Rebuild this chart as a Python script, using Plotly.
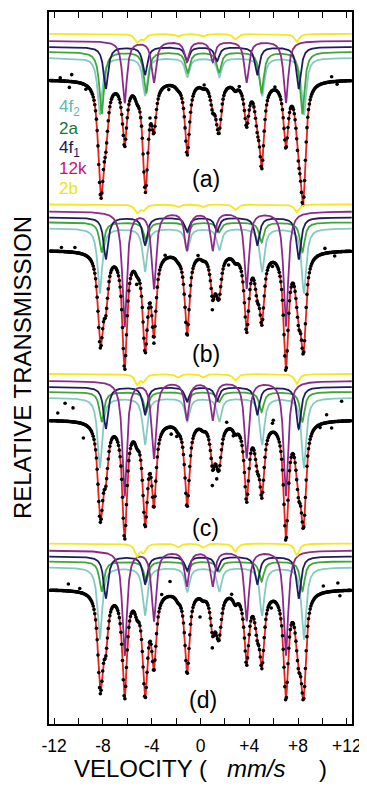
import numpy as np
import plotly.graph_objects as go

# ---------------- data ----------------
PANELS = ["(a)", "(b)", "(c)", "(d)"]
SITES = ["4f2", "2a", "4f1", "12k", "2b"]

# line positions (mm/s) of the six lines of each sextet
POS_4F2 = [-8.25, -4.55, -1.08, 1.54, 5.05, 8.48]
POS_2A = [-8.10, -4.45, -1.05, 1.52, 5.00, 8.35]
POS_4F1 = [-7.76, -4.55, -1.10, 1.35, 4.65, 8.05]
POS_12K = [-6.22, -3.82, -1.12, 1.00, 3.78, 7.00]
POS_2B = [-5.20, -4.68, -1.85, 0.20, 2.85, 7.90]
LINE_RATIO = [3, 2, 1, 1, 2, 3]
FWHM = 0.45  # mm/s

# outer-line absorption depth of each sub-spectrum per panel (a..d), arb. units
DEPTH_4F2 = [57, 65, 70, 72]
DEPTH_2A = [62, 30, 30, 30]
DEPTH_4F1 = [42, 42, 42, 42]
DEPTH_12K = [62, 115, 115, 105]
DEPTH_2B = [8, 8, 10, 12]

# visibly scattered data points: velocity and deviation from fit (arb. units)
OUT_A_V = [-10.56, -10.75, -4.14, 3.18, 10.75, -9.4, 6.1, -11.5, 11.2, -2.6, 0.3]
OUT_A_D = [7, -6, 8, 4, 5, -4, 3, 3, -3, -4, 4]
OUT_B_V = [0.97, -3.82, -5.23, -10.3, 2.3, -0.2, 10.2, -11.4, 11.0, -2.9, 5.9]
OUT_B_D = [-11, -5, -8, 5, -6, 4, 5, 4, -4, 4, -4]
OUT_C_V = [-11.1, -10.45, -11.7, -9.6, -1.95, 0.97, 1.33, 2.15, 2.69, 5.97, 9.8, 10.75, 11.57, 10.34, 5.9, -2.4]
OUT_C_D = [18, 14, 8, -14, -5, -17, -12, 8, -4, 12, -3, -6, 20, 8, 9, -7]
OUT_D_V = [-10.83, -2.5, -3.18, -0.04, 0.97, 2.55, 11.43, 11.26, 10.07, 5.8, -9.9]
OUT_D_D = [7, 15, 8, -18, -13, 5, -5, 8, 7, -6, 4]

LEGEND_TEXT = ["4f<sub>2</sub>", "2a", "4f<sub>1</sub>", "12k", "2b"]
X_TICKS = [-12, -8, -4, 0, 4, 8, 12]
X_TICK_TEXT = ["-12", "-8", "-4", "0", "+4", "+8", "+12"]

# ---------------- layout constants ----------------
PANEL_TOP = [32, 203, 373, 543]          # pixel row of the top (2b) curve of each panel
COMP_OFFSET = {"2b": 0, "12k": 7, "4f1": 13, "2a": 18, "4f2": 24}
SPEC_OFFSET = 46
CURVE_COL = {"4f2": "#86c9c4", "2a": "#3da83a", "4f1": "#1d1d5e", "12k": "#8c2a8c", "2b": "#f3e81c"}
LEGEND_COL = {"4f2": "#5fb7b0", "2a": "#13782e", "4f1": "#18184f", "12k": "#cc1070", "2b": "#efe21a"}
RED = "#e3241b"
FONT = "Liberation Sans, Arial, Helvetica, sans-serif"

POS = {"4f2": POS_4F2, "2a": POS_2A, "4f1": POS_4F1, "12k": POS_12K, "2b": POS_2B}
DEPTH = {"4f2": DEPTH_4F2, "2a": DEPTH_2A, "4f1": DEPTH_4F1, "12k": DEPTH_12K, "2b": DEPTH_2B}
OUTV = [OUT_A_V, OUT_B_V, OUT_C_V, OUT_D_V]
OUTD = [OUT_A_D, OUT_B_D, OUT_C_D, OUT_D_D]


def sextet(v, positions, depth):
    hw = FWHM / 2.0
    out = np.zeros_like(v)
    for p, r in zip(positions, LINE_RATIO):
        out += depth * r / 3.0 / (1.0 + ((v - p) / hw) ** 2)
    return out


v = np.linspace(-12.4, 12.4, 1500)
ch = np.linspace(-12.3, 12.3, 380)

fig = go.Figure()
draw_order = ["4f2", "2a", "4f1", "12k", "2b"]
for i, pan in enumerate(PANELS):
    top = PANEL_TOP[i]
    for s in draw_order:
        base = -(top + COMP_OFFSET[s])
        fig.add_trace(go.Scatter(x=v, y=base - sextet(v, POS[s], DEPTH[s][i]), mode="lines",
                                 line=dict(color=CURVE_COL[s], width=1.8), hoverinfo="skip",
                                 showlegend=False))
    sbase = -(top + SPEC_OFFSET)

    def fit(x):
        tot = np.zeros_like(x)
        for s in SITES:
            tot += sextet(x, POS[s], DEPTH[s][i])
        return sbase - tot

    ov = np.array(OUTV[i])
    od = np.array(OUTD[i])
    fig.add_trace(go.Scatter(x=v, y=fit(v), mode="lines", line=dict(color=RED, width=1.8),
                             hoverinfo="skip", showlegend=False))
    fig.add_trace(go.Scatter(x=np.concatenate([ch, ov]), y=np.concatenate([fit(ch), fit(ov) + od]),
                             mode="markers", marker=dict(color="black", size=3.6),
                             hoverinfo="skip", showlegend=False))

# page geometry (browser body has an 8px margin)
BODY = 8
PL, PR, PT, PB = 49, 352, 10, 724      # plot area in page pixels
W, H = 367 - BODY, 788 - BODY
L, T = PL - BODY, PT - BODY
R = BODY + W - PR
B = BODY + H - PB
pw, ph = PR - PL, PB - PT


def paper_x(xp):
    return (xp - PL) / pw


def paper_y(yp):
    return (PB - yp) / ph


# panel labels
LABEL_PX = [(206, 177), (206, 353), (205, 527), (203, 700)]
for lab, (xp, yp) in zip(PANELS, LABEL_PX):
    fig.add_annotation(x=(xp - 200.5) / 12.2, y=-yp, xref="x", yref="y", text=lab, showarrow=False,
                       xanchor="center", yanchor="middle",
                       font=dict(family=FONT, size=23, color="black"))

# site legend
LEG_Y = [106, 127, 147, 167, 187]
for s, t, yp in zip(SITES, LEGEND_TEXT, LEG_Y):
    fig.add_annotation(x=(57 - 200.5) / 12.2, y=-yp, xref="x", yref="y", text=t, showarrow=False,
                       xanchor="left", yanchor="middle",
                       font=dict(family=FONT, size=17, color=LEGEND_COL[s]))

fig.add_annotation(x=paper_x(22), y=paper_y(367), xref="paper", yref="paper", text="RELATIVE TRANSMISSION",
                   textangle=-90, showarrow=False, xanchor="center", yanchor="middle",
                   font=dict(family=FONT, size=24, color="black"))
fig.add_annotation(x=paper_x(200), y=paper_y(769), xref="paper", yref="paper",
                   text="VELOCITY (\u00a0\u00a0\u00a0<i>mm/s</i>\u00a0\u00a0\u00a0\u00a0\u00a0)",
                   showarrow=False, xanchor="center", yanchor="middle",
                   font=dict(family=FONT, size=24, color="black"))

fig.update_layout(
    width=W, height=H, margin=dict(l=L, r=R, t=T, b=B, pad=0),
    paper_bgcolor="white", plot_bgcolor="white",
    xaxis=dict(range=[-12.42, 12.42], tickvals=X_TICKS, ticktext=X_TICK_TEXT, ticks="inside",
               ticklen=6, tickwidth=1.2, tickcolor="black", showline=True, linecolor="black",
               linewidth=1.5, mirror="ticks", showgrid=False, zeroline=False,
               minor=dict(tickvals=[-10, -6, -2, 2, 6, 10], ticks="inside", ticklen=6,
                          tickwidth=1.2, tickcolor="black", showgrid=False),
               tickfont=dict(family=FONT, size=17.5, color="black"), ticklabelstandoff=5),
    yaxis=dict(range=[-724, -10], showticklabels=False, ticks="", showline=True, linecolor="black",
               linewidth=1.5, mirror=True, showgrid=False, zeroline=False),
)

fig.write_html("out.html")
